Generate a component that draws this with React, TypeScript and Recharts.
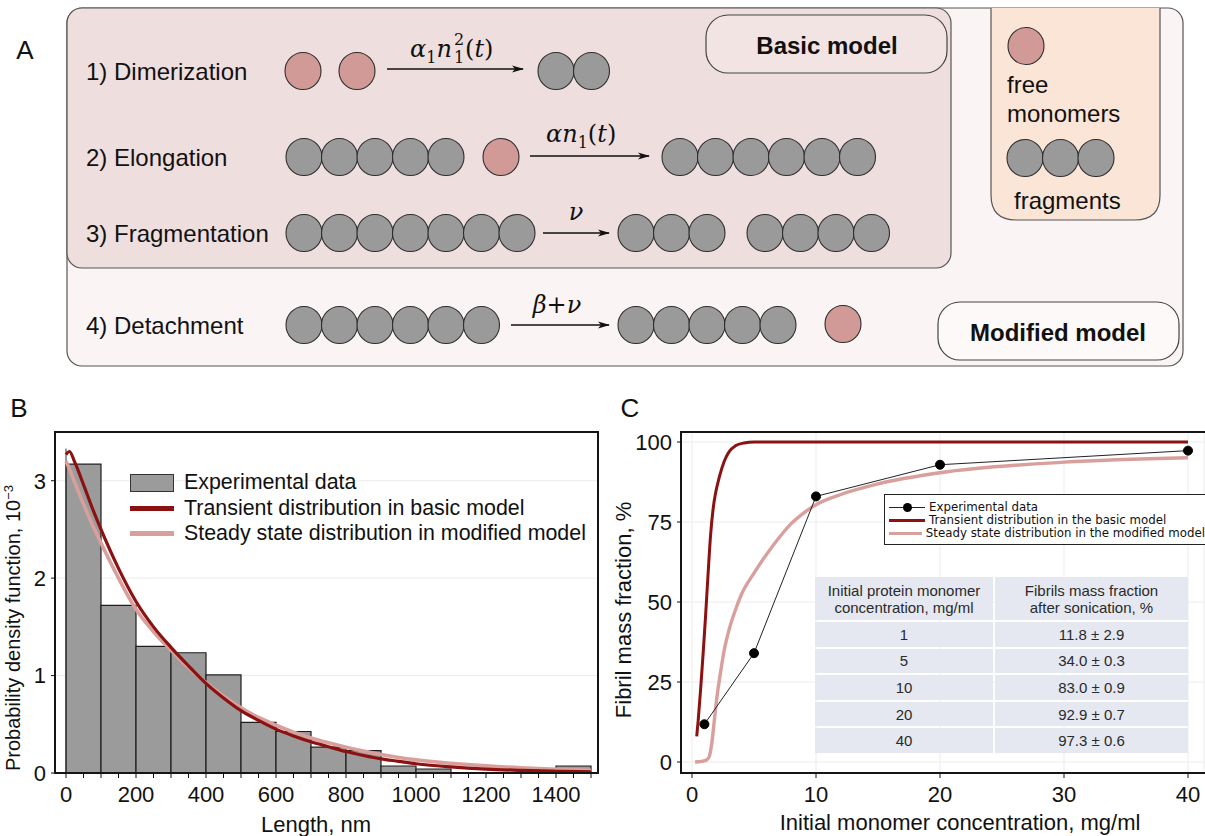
import React from 'react'
import {
  ComposedChart,
  Bar,
  Line,
  XAxis,
  YAxis,
  CartesianGrid,
  ReferenceLine,
} from 'recharts'

// ---------- panel B: length distribution ----------
const binStarts = [0, 100, 200, 300, 400, 500, 600, 700, 800, 900, 1000, 1100, 1200, 1300, 1400]
const binDensity = [3.17, 1.72, 1.3, 1.234, 1.007, 0.52, 0.426, 0.265, 0.23, 0.072, 0.041, 0, 0, 0, 0.072]

const lengthGrid = [0, 10, 25, 50, 75, 100, 150, 200, 250, 300, 350, 400, 450, 500, 550, 600, 650, 700, 750, 800, 850, 900, 950, 1000, 1100, 1200, 1300, 1400, 1500]
const transientPdf = [3.27, 3.3, 3.19, 2.96, 2.72, 2.5, 2.1, 1.76, 1.5, 1.29, 1.1, 0.92, 0.77, 0.64, 0.54, 0.45, 0.38, 0.32, 0.27, 0.22, 0.18, 0.145, 0.12, 0.095, 0.062, 0.04, 0.027, 0.018, 0.012]
const steadyPdf = [3.2, 3.12, 2.98, 2.76, 2.55, 2.36, 2.0, 1.68, 1.45, 1.26, 1.08, 0.93, 0.79, 0.67, 0.57, 0.49, 0.42, 0.36, 0.31, 0.265, 0.225, 0.19, 0.16, 0.135, 0.1, 0.073, 0.053, 0.038, 0.028]

const lengthTicks = [0, 50, 100, 150, 200, 250, 300, 350, 400, 450, 500, 550, 600, 650, 700, 750, 800, 850, 900, 950, 1000, 1050, 1100, 1150, 1200, 1250, 1300, 1350, 1400, 1450, 1500]
const lengthLabels = [0, 200, 400, 600, 800, 1000, 1200, 1400]
const lengthGridLines = [400, 800, 1200]
const densityTicks = [0, 1, 2, 3]

// ---------- panel C: fibril mass fraction ----------
const concentrations = [1, 5, 10, 20, 40]
const fibrilFraction = [11.8, 34.0, 83.0, 92.9, 97.3]
const fractionError = [2.9, 0.3, 0.9, 0.7, 0.6]

const transientConc = [0.38, 0.5, 0.7, 0.9, 1.1, 1.3, 1.5, 1.7, 1.9, 2.2, 2.6, 3.0, 3.5, 4.2, 5, 10, 20, 30, 40]
const transientFraction = [8, 13, 23, 34, 46, 59, 71, 79, 84, 89, 94, 97, 98.8, 99.7, 100, 100, 100, 100, 100]
const steadyConc = [0.25, 0.8, 1.2, 1.4, 1.6, 1.8, 2.0, 2.3, 2.6, 3, 3.5, 4, 5, 6, 7, 8, 9, 10, 12, 15, 20, 30, 40]
const steadyFraction = [0, 0.2, 0.7, 1.8, 6, 13, 20, 28, 35, 41.5, 47.5, 52.5, 59, 64.8, 70, 74.5, 77.8, 80.4, 83.6, 86.9, 90.4, 93.7, 95.1]

const concTicks = [0, 10, 20, 30, 40]
const fractionTicks = [0, 25, 50, 75, 100]

const histData = binStarts.map((s, i) => ({ bin: String(s), density: binDensity[i] }))
const transientPdfData = lengthGrid.map((x, i) => ({ x, y: transientPdf[i] }))
const steadyPdfData = lengthGrid.map((x, i) => ({ x, y: steadyPdf[i] }))
const expData = concentrations.map((x, i) => ({ x, y: fibrilFraction[i] }))
const transientFracData = transientConc.map((x, i) => ({ x, y: transientFraction[i] }))
const steadyFracData = steadyConc.map((x, i) => ({ x, y: steadyFraction[i] }))

const DARK_RED = '#8c1111'
const LIGHT_RED = '#d89f9c'
const BAR_GRAY = '#9b9b9b'
const GRID = '#ececec'
const SANS = "'Liberation Sans', Arial, sans-serif"
const MATH = "'DejaVu Serif', 'Liberation Serif', serif"

// ---------- panel A: scheme ----------
const BEAD_STEP = 35.5
const FIB = '#9a9a9a'
const MONO = '#d29a97'

function Chain({ x, y, n, fill = FIB }: { x: number; y: number; n: number; fill?: string }) {
  return (
    <g>
      {Array.from({ length: n }, (_, i) => (
        <ellipse key={i} cx={x + i * BEAD_STEP} cy={y} rx={18} ry={18.5} fill={fill} stroke="#2e2e2e" strokeWidth={1.1} />
      ))}
    </g>
  )
}

function Arrow({ x1, x2, y }: { x1: number; x2: number; y: number }) {
  return <line x1={x1} y1={y} x2={x2} y2={y} stroke="#111" strokeWidth={1.6} markerEnd="url(#arrowHead)" />
}

function SchemePanel() {
  const rowFont = { fontFamily: SANS, fontSize: 24, fill: '#111' }
  const math = { fontFamily: MATH, fontSize: 24, fill: '#111' }
  return (
    <svg width={1205} height={380} style={{ position: 'absolute', left: 0, top: 0 }}>
      <defs>
        <marker id="arrowHead" markerUnits="userSpaceOnUse" markerWidth={12} markerHeight={8} refX={11} refY={4} orient="auto">
          <path d="M0,0.5 L12,4 L0,7.5 L3,4 Z" fill="#111" />
        </marker>
      </defs>
      <text x={25} y={50} fontFamily={SANS} fontSize={26} textAnchor="middle" dominantBaseline="central" fill="#111">A</text>

      <rect x={67} y={8} width={1116} height={358} rx={15} fill="#fbf4f4" stroke="#555" strokeWidth={1.2} />
      <rect x={67} y={8} width={884} height={260} rx={15} fill="#efdede" stroke="#555" strokeWidth={1.2} />
      <path d="M991,8 L991,195 Q991,220 1016,220 L1135,220 Q1160,220 1160,195 L1160,8" fill="#fbe5d6" stroke="#555" strokeWidth={1.2} />

      <rect x={706} y={15} width={241} height={58} rx={22} fill="#f3e4e4" stroke="#444" strokeWidth={1.2} />
      <text x={827} y={45} textAnchor="middle" dominantBaseline="central" fontFamily={SANS} fontWeight="bold" fontSize={24} fill="#111">Basic model</text>
      <rect x={938} y={302} width={241} height={58} rx={22} fill="#fdf9f9" stroke="#444" strokeWidth={1.2} />
      <text x={1058} y={332} textAnchor="middle" dominantBaseline="central" fontFamily={SANS} fontWeight="bold" fontSize={24} fill="#111">Modified model</text>

      {/* 1) dimerization */}
      <text x={86} y={71} dominantBaseline="central" {...rowFont}>1) Dimerization</text>
      <Chain x={303} y={71} n={1} fill={MONO} />
      <Chain x={357} y={71} n={1} fill={MONO} />
      <Arrow x1={387} x2={523} y={69} />
      <text x={410} y={57} {...math}>
        <tspan fontStyle="italic">α</tspan>
        <tspan fontSize={16} dy={6}>1</tspan>
        <tspan fontStyle="italic" dy={-6}>n</tspan>
      </text>
      <text x={454} y={63} fontFamily={MATH} fontSize={16} fill="#111">1</text>
      <text x={454} y={45} fontFamily={MATH} fontSize={16} fill="#111">2</text>
      <text x={465} y={57} {...math}>
        (<tspan fontStyle="italic">t</tspan>)
      </text>
      <Chain x={556} y={71} n={2} />

      {/* 2) elongation */}
      <text x={86} y={157} dominantBaseline="central" {...rowFont}>2) Elongation</text>
      <Chain x={304} y={157} n={5} />
      <Chain x={501} y={157} n={1} fill={MONO} />
      <Arrow x1={530} x2={649} y={156} />
      <text x={546} y={142} {...math}>
        <tspan fontStyle="italic">αn</tspan>
        <tspan fontSize={16} dy={6}>1</tspan>
        <tspan dy={-6}>(</tspan>
        <tspan fontStyle="italic">t</tspan>
        <tspan>)</tspan>
      </text>
      <Chain x={680} y={157} n={6} />

      {/* 3) fragmentation */}
      <text x={86} y={233} dominantBaseline="central" {...rowFont}>3) Fragmentation</text>
      <Chain x={304} y={233} n={7} />
      <Arrow x1={543} x2={609} y={233} />
      <text x={576} y={220} textAnchor="middle" fontStyle="italic" {...math}>ν</text>
      <Chain x={636} y={233} n={3} />
      <Chain x={765} y={233} n={4} />

      {/* 4) detachment */}
      <text x={86} y={325} dominantBaseline="central" {...rowFont}>4) Detachment</text>
      <Chain x={304} y={325} n={6} />
      <Arrow x1={511} x2={609} y={325} />
      <text x={557} y={313} textAnchor="middle" {...math}>
        <tspan fontStyle="italic">β</tspan>+<tspan fontStyle="italic">ν</tspan>
      </text>
      <Chain x={636} y={325} n={5} />
      <Chain x={843} y={324} n={1} fill={MONO} />

      {/* species key */}
      <Chain x={1026} y={46} n={1} fill={MONO} />
      <text x={1007} y={84} dominantBaseline="central" {...rowFont}>free</text>
      <text x={1007} y={113} dominantBaseline="central" {...rowFont}>monomers</text>
      <Chain x={1025} y={158} n={3} />
      <text x={1014} y={200} dominantBaseline="central" {...rowFont}>fragments</text>
    </svg>
  )
}

// ---------- panel B chart ----------
function HistogramChart() {
  const pad = { left: 11, right: 7 }
  return (
    <ComposedChart
      width={610}
      height={416}
      data={histData}
      margin={{ top: 12, right: 12, bottom: 0, left: 0 }}
      barCategoryGap={0}
      barGap={0}
    >
      <XAxis
        xAxisId="len"
        type="number"
        dataKey="x"
        domain={[0, 1500]}
        ticks={lengthTicks}
        interval={0}
        padding={pad}
        height={63}
        axisLine={false}
        tickSize={5}
        tickMargin={8}
        tickLine={{ stroke: '#111' }}
        tick={{ fontSize: 22, fill: '#111', fontFamily: SANS }}
        tickFormatter={(v: number) => (lengthLabels.includes(v) ? String(v) : '')}
      />
      <XAxis xAxisId="bins" dataKey="bin" type="category" hide height={0} padding={pad} />
      <XAxis xAxisId="gx" type="number" domain={[0, 1500]} ticks={lengthGridLines} hide height={0} padding={pad} />
      <YAxis
        yAxisId="y"
        type="number"
        domain={[0, 3.5]}
        ticks={densityTicks}
        width={55}
        axisLine={false}
        tickSize={4}
        tickMargin={5}
        tickLine={{ stroke: '#111' }}
        tick={{ fontSize: 22, fill: '#111', fontFamily: SANS }}
      />
      <CartesianGrid xAxisId="gx" yAxisId="y" stroke={GRID} strokeWidth={1} />
      <Bar
        xAxisId="bins"
        yAxisId="y"
        dataKey="density"
        fill={BAR_GRAY}
        stroke="#1e1e1e"
        strokeWidth={1.2}
        isAnimationActive={false}
      />
      <ReferenceLine
        xAxisId="len"
        yAxisId="y"
        segment={[{ x: 0, y: 0 }, { x: 0, y: 3.33 }]}
        stroke="#333"
        strokeWidth={1}
      />
      <Line
        xAxisId="len"
        yAxisId="y"
        data={steadyPdfData}
        dataKey="y"
        type="monotone"
        stroke={LIGHT_RED}
        strokeWidth={3.6}
        dot={false}
        isAnimationActive={false}
      />
      <Line
        xAxisId="len"
        yAxisId="y"
        data={transientPdfData}
        dataKey="y"
        type="monotone"
        stroke={DARK_RED}
        strokeWidth={3.2}
        dot={false}
        isAnimationActive={false}
      />
    </ComposedChart>
  )
}

// ---------- panel C chart ----------
function FractionChart() {
  return (
    <ComposedChart width={605} height={416} margin={{ top: 12, right: 1, bottom: 0, left: 0 }}>
      <CartesianGrid stroke={GRID} strokeWidth={1} />
      <XAxis
        type="number"
        dataKey="x"
        domain={[0, 40]}
        ticks={concTicks}
        interval={0}
        padding={{ left: 11, right: 16 }}
        height={63}
        axisLine={false}
        tickSize={5}
        tickMargin={8}
        tickLine={{ stroke: '#111' }}
        tick={{ fontSize: 22, fill: '#111', fontFamily: SANS }}
      />
      <YAxis
        type="number"
        domain={[0, 100]}
        ticks={fractionTicks}
        padding={{ top: 10, bottom: 11 }}
        width={81}
        axisLine={false}
        tickSize={4}
        tickMargin={5}
        tickLine={{ stroke: '#111' }}
        tick={{ fontSize: 22, fill: '#111', fontFamily: SANS }}
      />
      <Line data={steadyFracData} dataKey="y" type="monotone" stroke={LIGHT_RED} strokeWidth={3.4} dot={false} isAnimationActive={false} />
      <Line data={transientFracData} dataKey="y" type="monotone" stroke={DARK_RED} strokeWidth={3} dot={false} isAnimationActive={false} />
      <Line
        data={expData}
        dataKey="y"
        type="linear"
        stroke="#222"
        strokeWidth={1}
        dot={{ r: 4.5, fill: '#000', stroke: '#000', strokeWidth: 1 }}
        isAnimationActive={false}
      />
    </ComposedChart>
  )
}

function HistLegend() {
  const items = [
    { label: 'Experimental data', kind: 'box' },
    { label: 'Transient distribution in basic model', kind: DARK_RED },
    { label: 'Steady state distribution in modified model', kind: LIGHT_RED },
  ]
  return (
    <div style={{ position: 'absolute', left: 130, top: 470, fontFamily: SANS, fontSize: 21.4, color: '#111' }}>
      {items.map((it) => (
        <div key={it.label} style={{ display: 'flex', alignItems: 'center', height: 25.5, whiteSpace: 'nowrap' }}>
          {it.kind === 'box' ? (
            <div style={{ width: 44, height: 18, background: BAR_GRAY, border: '1.5px solid #333', boxSizing: 'border-box' }} />
          ) : (
            <div style={{ width: 44, height: 5, background: it.kind }} />
          )}
          <span style={{ marginLeft: 10 }}>{it.label}</span>
        </div>
      ))}
    </div>
  )
}

function FractionLegend() {
  const row = { display: 'flex', alignItems: 'center', height: 13, whiteSpace: 'nowrap' as const }
  return (
    <div
      style={{
        position: 'absolute',
        left: 884,
        top: 494,
        width: 321,
        height: 51,
        border: '1.5px solid #222',
        borderRight: 'none',
        background: '#fff',
        boxSizing: 'border-box',
        padding: '6px 0 0 4px',
        fontFamily: "'DejaVu Sans', sans-serif",
        fontSize: 11.8,
        color: '#111',
        lineHeight: '13px',
        overflow: 'hidden',
      }}
    >
      <div style={row}>
        <div style={{ position: 'relative', width: 36, height: 13 }}>
          <div style={{ position: 'absolute', left: 0, top: 6, width: 36, height: 1, background: '#222' }} />
          <div style={{ position: 'absolute', left: 14, top: 2, width: 9, height: 9, borderRadius: '50%', background: '#000' }} />
        </div>
        <span style={{ marginLeft: 4 }}>Experimental data</span>
      </div>
      <div style={row}>
        <div style={{ width: 36, height: 3, background: DARK_RED }} />
        <span style={{ marginLeft: 4 }}>Transient distribution in the basic model</span>
      </div>
      <div style={row}>
        <div style={{ width: 36, height: 3.5, background: LIGHT_RED }} />
        <span style={{ marginLeft: 4 }}>Steady state distribution in the modified model</span>
      </div>
    </div>
  )
}

function FractionTable() {
  const cell = {
    background: '#e5e8f1',
    display: 'flex',
    alignItems: 'center',
    justifyContent: 'center',
    textAlign: 'center' as const,
  }
  return (
    <div
      style={{
        position: 'absolute',
        left: 815,
        top: 577,
        width: 373,
        display: 'grid',
        gridTemplateColumns: '178px 193px',
        gridTemplateRows: '43px repeat(5, 24.6px)',
        gap: 2,
        fontFamily: SANS,
        fontSize: 15,
        color: '#2a2a2a',
        lineHeight: '17px',
      }}
    >
      <div style={cell}>Initial protein monomer<br />concentration, mg/ml</div>
      <div style={cell}>Fibrils mass fraction<br />after sonication, %</div>
      {concentrations.map((c, i) => (
        <React.Fragment key={c}>
          <div style={cell}>{c}</div>
          <div style={cell}>{fibrilFraction[i].toFixed(1)} ± {fractionError[i].toFixed(1)}</div>
        </React.Fragment>
      ))}
    </div>
  )
}

function Titles() {
  return (
    <svg width={1205} height={836} style={{ position: 'absolute', left: 0, top: 0, pointerEvents: 'none' }} fontFamily={SANS} fill="#111">
      <text x={19} y={408} fontSize={26} textAnchor="middle" dominantBaseline="central">B</text>
      <text x={630} y={408} fontSize={26} textAnchor="middle" dominantBaseline="central">C</text>
      <text transform="translate(20,628) rotate(-90)" textAnchor="middle" fontSize={20}>
        Probability density function, 10<tspan fontSize={13} dy={-7}>−3</tspan>
      </text>
      <text x={316} y={832} textAnchor="middle" fontSize={22}>Length, nm</text>
      <text transform="translate(631,610) rotate(-90)" textAnchor="middle" fontSize={22}>Fibril mass fraction, %</text>
      <text x={960} y={830} textAnchor="middle" fontSize={22}>Initial monomer concentration, mg/ml</text>
    </svg>
  )
}

export default function App() {
  return (
    <div
      style={{
        position: 'absolute',
        left: 0,
        top: 0,
        width: 1205,
        height: 836,
        background: '#fff',
        overflow: 'hidden',
        fontFamily: SANS,
      }}
    >
      <SchemePanel />
      <div style={{ position: 'absolute', left: 0, top: 420 }}>
        <HistogramChart />
      </div>
      <div style={{ position: 'absolute', left: 54, top: 431, width: 545, height: 343, border: '2px solid #151515', boxSizing: 'border-box', pointerEvents: 'none' }} />
      <HistLegend />
      <div style={{ position: 'absolute', left: 600, top: 420 }}>
        <FractionChart />
      </div>
      <div style={{ position: 'absolute', left: 680, top: 431, width: 530, height: 343, border: '2px solid #151515', boxSizing: 'border-box', pointerEvents: 'none' }} />
      <FractionTable />
      <FractionLegend />
      <Titles />
    </div>
  )
}
